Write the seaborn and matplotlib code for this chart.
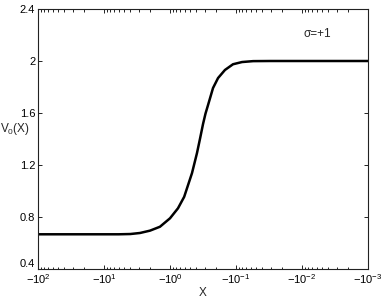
import numpy as np
import pandas as pd
import matplotlib
matplotlib.use("Agg")
import matplotlib.pyplot as plt
import matplotlib.ticker as mticker
import seaborn as sns

# curve (X is negative, plotted on a log scale of -X)
X = [-100, -20, -6, -4, -2.85, -2.01, -1.42, -1.0, -0.757, -0.61, -0.464,
     -0.39, -0.35, -0.316, -0.29, -0.265, -0.223, -0.187, -0.147, -0.111,
     -0.081, -0.055, -0.03, -0.001]
V0 = [0.667, 0.667, 0.667, 0.669, 0.677, 0.695, 0.725, 0.790, 0.867, 0.955, 1.138,
      1.292, 1.405, 1.515, 1.595, 1.662, 1.792, 1.869, 1.931, 1.975,
      1.992, 1.999, 2.0, 2.0]
xticks = [100, 10, 1, 0.1, 0.01, 0.001]
xticklabels = [r"$-10^{2}$", r"$-10^{1}$", r"$-10^{0}$", r"$-10^{-1}$", r"$-10^{-2}$", r"$-10^{-3}$"]
yticks = [0.4, 0.8, 1.2, 1.6, 2.0, 2.4]
yticklabels = ["0.4", "0.8", "1.2", "1.6", "2", "2.4"]

sns.set_style("ticks")
plt.rcParams["font.family"] = ["Liberation Sans", "DejaVu Sans"]
plt.rcParams["mathtext.fontset"] = "custom"
plt.rcParams["mathtext.rm"] = "Liberation Sans"
plt.rcParams["mathtext.it"] = "Liberation Sans:italic"
plt.rcParams["mathtext.default"] = "regular"

df = pd.DataFrame({"t": -np.array(X), "v": V0})

fig = plt.figure(figsize=(3.82, 3.03), dpi=100)
ax = fig.add_axes([38 / 382, 1 - 269 / 303, 330 / 382, 260 / 303])
sns.lineplot(data=df, x="t", y="v", color="black", lw=1.8, ax=ax,
             solid_joinstyle="round", solid_capstyle="round")

ax.set_xscale("log")
ax.set_xlim(100, 0.001)
ax.set_ylim(0.4, 2.4)
ax.xaxis.set_major_locator(mticker.FixedLocator(xticks))
ax.xaxis.set_major_formatter(mticker.FixedFormatter(xticklabels))
ax.xaxis.set_minor_locator(mticker.LogLocator(base=10, subs=np.arange(2, 10)))
ax.xaxis.set_minor_formatter(mticker.NullFormatter())
ax.set_yticks(yticks)
ax.set_yticklabels(yticklabels)
ax.get_yticklabels()[0].set_va("bottom")
ax.tick_params(which="both", direction="in", top=True, right=True, labelsize=8,
               width=0.6, colors="black", pad=2)
ax.tick_params(which="major", length=3)
ax.tick_params(which="minor", length=1.8)
for s in ax.spines.values():
    s.set_linewidth(0.8)
    s.set_color("#222222")

ax.set_xlabel("X", fontsize=8.5, labelpad=1)
ax.set_ylabel(r"V$_0$(X)", fontsize=8.5, rotation=0, va="center", ha="center")
ax.yaxis.set_label_coords(-0.07, 0.54)
ax.text(0.845, 0.905, "σ=+1", transform=ax.transAxes, fontsize=8.5, ha="center", va="center")

fig.savefig("out.png", dpi=100)
